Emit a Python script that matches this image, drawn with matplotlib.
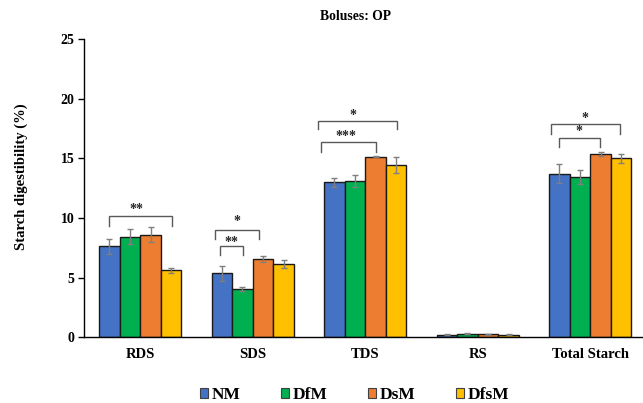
import numpy as np
import matplotlib
matplotlib.use("Agg")
import matplotlib.pyplot as plt
from matplotlib.patches import Patch

plt.rcParams['font.family'] = ['Liberation Serif', 'DejaVu Serif']
plt.rcParams['font.weight'] = 'bold'

# dane
categories = ["RDS", "SDS", "TDS", "RS", "Total Starch"]
groups = ["NM", "DfM", "DsM", "DfsM"]
colors = ["#4472C4", "#00B050", "#ED7D31", "#FFC000"]

means = {
    "NM":   [7.62, 5.36, 12.99, 0.22, 13.72],
    "DfM":  [8.42, 4.04, 13.13, 0.30, 13.41],
    "DsM":  [8.61, 6.57, 15.12, 0.24, 15.35],
    "DfsM": [5.61, 6.15, 14.45, 0.22, 15.01],
}
errors = {
    "NM":   [0.60, 0.62, 0.38, 0.03, 0.83],
    "DfM":  [0.63, 0.15, 0.50, 0.04, 0.57],
    "DsM":  [0.66, 0.24, 0.05, 0.03, 0.14],
    "DfsM": [0.20, 0.35, 0.67, 0.03, 0.38],
}

# nawiasy istotnosci: x1, x2, gora, dol nozek, tekst, x tekstu, y tekstu
brackets = [
    (-0.277, 0.283, 10.17, 9.35, "**", -0.03, 10.67),
    (0.662, 1.059, 8.97, 8.21, "*", 0.86, 9.69),
    (0.712, 0.911, 7.63, 6.87, "**", 0.81, 7.96),
    (1.580, 2.283, 18.16, 17.43, "*", 1.89, 18.63),
    (1.604, 2.099, 16.35, 15.56, "***", 1.83, 16.82),
    (3.652, 4.265, 17.85, 17.07, "*", 3.95, 18.30),
    (3.720, 4.084, 16.73, 15.93, "*", 3.90, 17.23),
]

fig = plt.figure(figsize=(6.43, 4.03), dpi=100)
ax = fig.add_axes([84 / 643, 65.7 / 403, 559 / 643, 298.3 / 403])

x = np.arange(len(categories))
w = 0.183
for i, g in enumerate(groups):
    ax.bar(x + (i - 1.5) * w, means[g], w, color=colors[i], edgecolor="#1a1a1a",
           linewidth=1.0, zorder=2)
    ax.errorbar(x + (i - 1.5) * w, means[g], yerr=errors[g], fmt="none",
                ecolor="#7f7f7f", elinewidth=1.0, capsize=2.5, capthick=1.0, zorder=3)

for x1, x2, top, leg, txt, tx, ty in brackets:
    ax.plot([x1, x1, x2, x2], [leg, top, top, leg], color="#595959", lw=1.0,
            solid_joinstyle="miter", zorder=3)
    ax.text(tx, ty, txt, ha="center", va="center", fontsize=10, color="#262626")

ax.set_xlim(-0.5, 4.469)
ax.set_ylim(0, 25)
ax.set_yticks([0, 5, 10, 15, 20, 25])
ax.set_xticks(x)
ax.set_xticklabels(categories, fontsize=10.5, fontweight="bold")
ax.tick_params(axis="x", length=0, pad=8)
ax.tick_params(axis="y", length=4, width=1, labelsize=10, pad=3)
for lab in ax.get_yticklabels():
    lab.set_fontweight("bold")

ax.spines["top"].set_visible(False)
ax.spines["right"].set_visible(False)
ax.spines["left"].set_linewidth(1.0)
ax.spines["bottom"].set_linewidth(1.0)

ax.set_ylabel("Starch digestibility (%)", fontsize=10.5, fontweight="bold")
ax.yaxis.set_label_coords(-0.1, 0.537)

fig.text(356 / 643, 1 - 17 / 403, "Boluses: OP", ha="center", va="center",
         fontsize=9.8, fontweight="bold")

handles = [Patch(facecolor=c, edgecolor="#404040", linewidth=0.8) for c in colors]
fig.legend(handles, groups, loc="center", bbox_to_anchor=(354.5 / 643, 1 - 395 / 403),
           ncol=4, frameon=False, handlelength=0.46, handleheight=0.46,
           handletextpad=0.2, columnspacing=2.35, prop={"weight": "bold", "size": 12.5})

fig.savefig("out.png", dpi=100)
